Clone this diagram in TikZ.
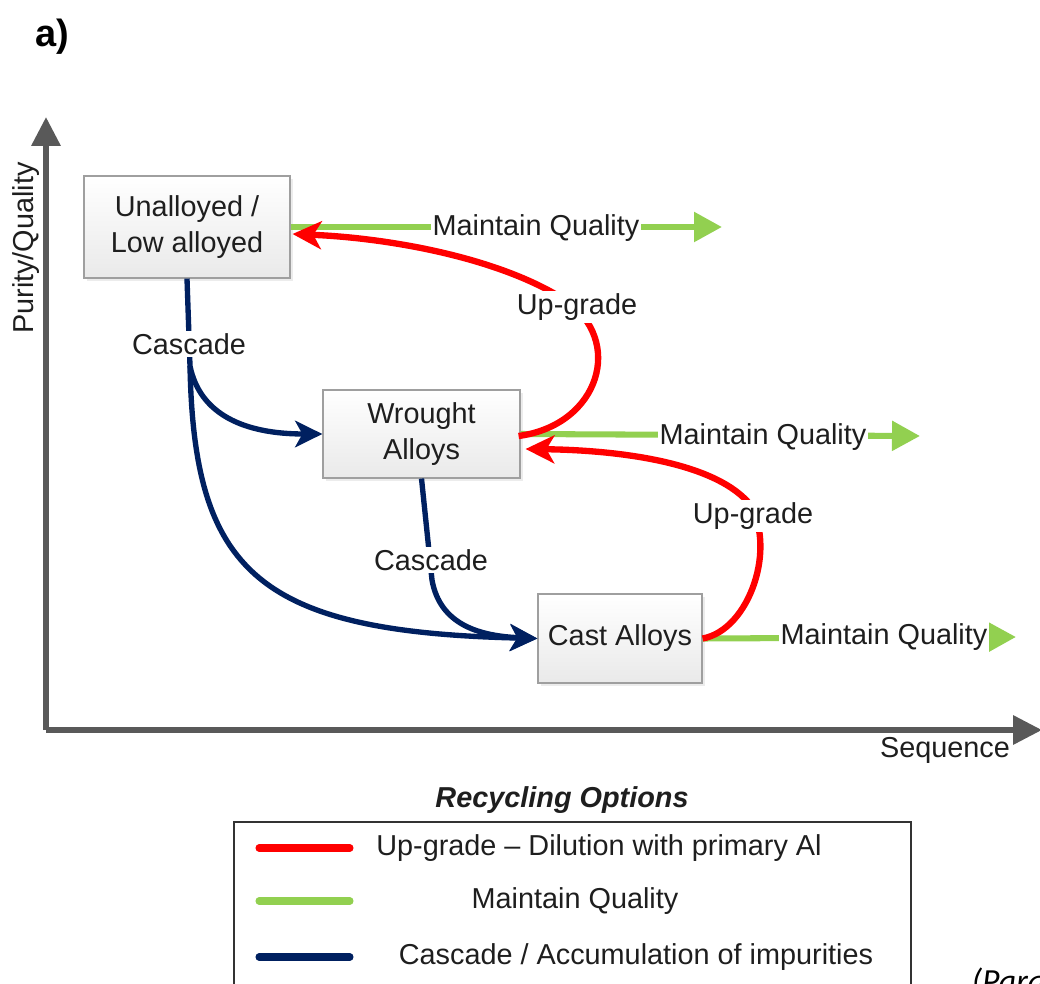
\documentclass[tikz,border=0pt]{standalone}
\usepackage{fontspec}
\setmainfont{Liberation Sans}
\newfontfamily\notefont{Carlito}
\usetikzlibrary{arrows.meta,shadows,calc}

\definecolor{upred}{RGB}{255,0,0}
\definecolor{mqgreen}{RGB}{146,208,80}
\definecolor{cascblue}{RGB}{0,32,96}
\definecolor{axisgray}{RGB}{89,89,89}
\definecolor{txtgray}{RGB}{30,30,30}

\tikzset{
  alloy/.style={draw=gray!75, line width=0.8pt, top color=white, bottom color=gray!17,
    align=center, inner sep=0pt, text=txtgray,
    drop shadow={opacity=0.15, shadow xshift=2pt, shadow yshift=-2pt}},
  axis/.style={axisgray, line width=4.2pt, -{Triangle[length=0.72cm,width=0.7cm]}},
  upg/.style={upred, line width=4.5pt, -{Stealth[length=0.72cm,width=0.7cm,inset=0.2cm]}},
  mq/.style={mqgreen, line width=4.3pt, -{Triangle[length=0.7cm,width=0.72cm]}},
  casc/.style={cascblue, line width=3.8pt, -{Stealth[length=0.68cm,width=0.66cm,inset=0.18cm]}},
  lab/.style={fill=white, inner sep=1.5pt, text=txtgray},
  legline/.style={line width=5pt, line cap=round}
}

\begin{document}
\begin{tikzpicture}[x=0.025cm,y=-0.025cm]\fontsize{20.5}{25.5}\selectfont
\useasboundingbox (0,0) rectangle (1040,984);
\clip (0,0) rectangle (1040,984);
\node[font=\bfseries\fontsize{27}{30}\selectfont] (tag) at (52,37) {a)};

% axes
\coordinate (o) at (46,730);
\draw[axis] (o) -- (46,117);
\draw[axis] (o) -- (1042,730);
\node[rotate=90, text=txtgray] (ylab) at (26,248) {Purity/Quality};
\node[text=txtgray] (xlab) at (945,750) {Sequence};

% alloy classes
\node[alloy, minimum width=5.15cm, minimum height=2.55cm] (ua) at (187,227) {Unalloyed /\\Low alloyed};
\node[alloy, minimum width=4.925cm, minimum height=2.2cm] (wa) at (421.5,434) {Wrought\\Alloys};
\node[alloy, minimum width=4.1cm, minimum height=2.225cm] (ca) at (620,638.5) {Cast Alloys};

% maintain quality
\coordinate (mq1) at (722,227);
\coordinate (mq2) at (920,436);
\coordinate (mq3) at (1016,637);
\draw[mq] (ua.east) -- (mq1);
\draw[mq] (wa.east) -- (mq2);
\draw[mq] (ca.east) -- (mq3);
\node[lab] (mqa) at (536,228) {Maintain Quality};
\node[lab] (mqb) at (763,437) {Maintain Quality};
\node[lab] (mqc) at (884,637) {Maintain Quality};

% up-grade
\draw[upg] ($(wa.east)+(-2,2)$) .. controls (600,425) and (625,340) .. (565,300)
  .. controls (500,258) and (390,238) .. ($(ua.east)+(2,7)$);
\draw[upg] (ca.east) .. controls (750,630) and (778,545) .. (748,502)
  .. controls (710,460) and (610,450) .. ($(wa.east)+(5,15)$);
\node[lab] (upa) at (577,307) {Up-grade};
\node[lab] (upb) at (753,516) {Up-grade};

% cascade
\coordinate (cj1) at (190,366);
\coordinate (cj2) at (432,580);
\draw[casc] (ua.south) -- (cj1) .. controls (200,415) and (245,434) .. (wa.west);
\draw[casc] (cj1) .. controls (194,572) and (258,632) .. (ca.west);
\draw[casc] (wa.south) -- (cj2) .. controls (440,625) and (480,636) .. (ca.west);
\node[lab] (csa) at (189,344) {Cascade};
\node[lab] (csb) at (431,560) {Cascade};

% legend
\node[font=\bfseries\itshape, text=txtgray] (legt) at (562,800) {Recycling Options};
\draw[line width=1.4pt, draw=black!80] (234,822) rectangle (911,1010);
\foreach \y/\c/\x/\t in {848/upred/599/{Up-grade \textendash\ Dilution with primary Al},
    901/mqgreen/575/{Maintain Quality},
    957/cascblue/636/{Cascade / Accumulation of impurities}}{
  \draw[legline, \c] (259,\y) -- (350,\y);
  \node[text=txtgray] at (\x,\y) {\t};
}
\node[anchor=base west, font=\notefont\itshape\fontsize{24}{28}\selectfont] (src) at (962,992) {(Para};
\end{tikzpicture}
\end{document}
